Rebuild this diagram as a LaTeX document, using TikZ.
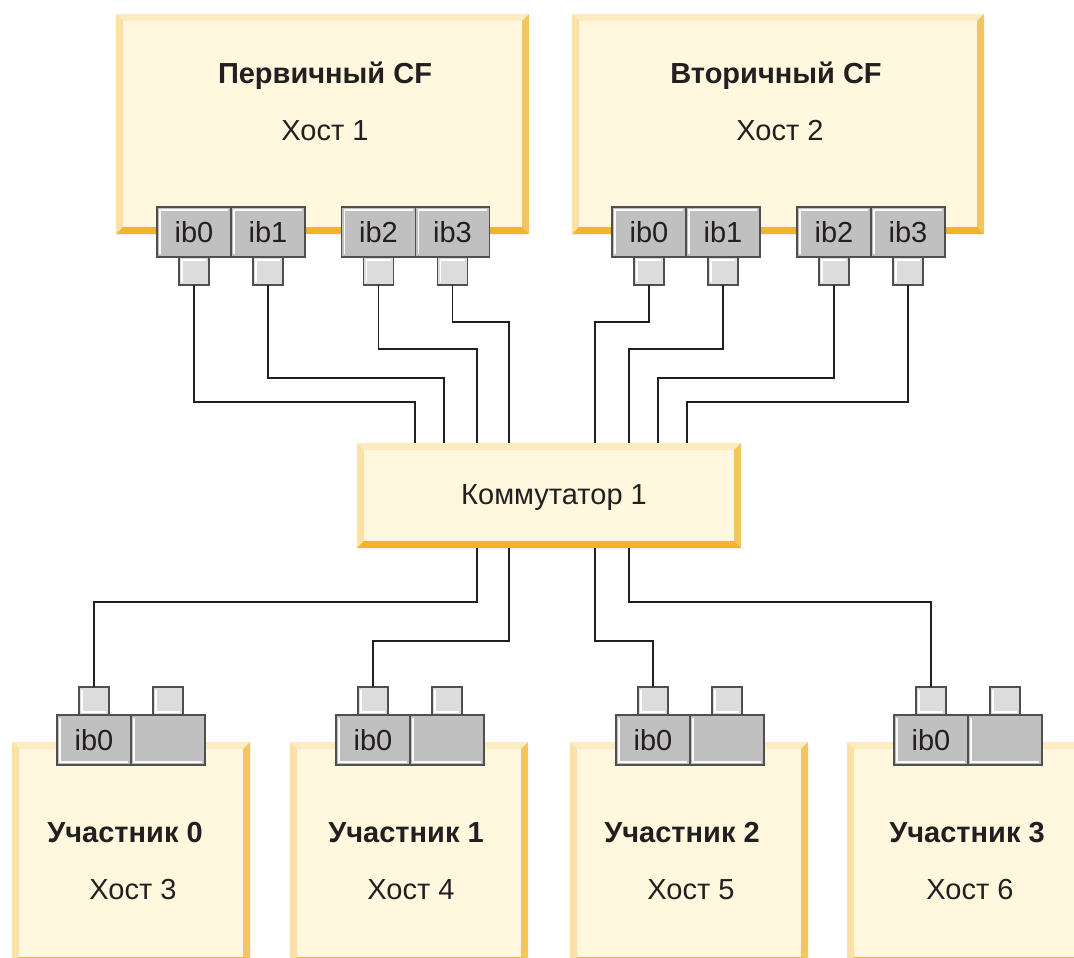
\documentclass[tikz,border=0pt]{standalone}
\usepackage{fontspec}
\setmainfont{Liberation Sans}
\usetikzlibrary{positioning}
\definecolor{boxfill}{HTML}{FFF8DF}
\definecolor{beveltop}{HTML}{FDEBC2}
\definecolor{bevelleft}{HTML}{FCE1A6}
\definecolor{bevelright}{HTML}{F3C55F}
\definecolor{bevelbottom}{HTML}{F0B52B}
\definecolor{portgray}{HTML}{C0C0C0}
\definecolor{pluggray}{HTML}{DCDCDC}
\definecolor{edgegray}{HTML}{4F4F4F}
\definecolor{textdark}{HTML}{231F20}

\tikzset{
  bevelbox/.style={rectangle, fill=boxfill, inner sep=0pt, outer sep=0pt,
    path picture={
      \path (path picture bounding box.north west) coordinate (bnw)
            (path picture bounding box.north east) coordinate (bne)
            (path picture bounding box.south west) coordinate (bsw)
            (path picture bounding box.south east) coordinate (bse);
      \fill[beveltop] (bnw) -- (bne) -- ([shift={(-7pt,-7pt)}]bne) -- ([shift={(7pt,-7pt)}]bnw) -- cycle;
      \fill[bevelleft] (bnw) -- ([shift={(7pt,-7pt)}]bnw) -- ([shift={(7pt,7pt)}]bsw) -- (bsw) -- cycle;
      \fill[bevelright] (bne) -- (bse) -- ([shift={(-7pt,7pt)}]bse) -- ([shift={(-7pt,-7pt)}]bne) -- cycle;
      \fill[bevelbottom] (bsw) -- ([shift={(7pt,7pt)}]bsw) -- ([shift={(-7pt,7pt)}]bse) -- (bse) -- cycle;
    }},
  % Gamma-shaped highlight for top ports, L-shaped for member ports
  gammalight/.style={path picture={
      \draw[#1, line width=1.2pt]
        ([shift={(3pt,3pt)}]path picture bounding box.south west) --
        ([shift={(3pt,-3pt)}]path picture bounding box.north west) --
        ([shift={(-3pt,-3pt)}]path picture bounding box.north east);
    }},
  elllight/.style={path picture={
      \draw[#1, line width=1.2pt]
        ([shift={(3pt,-3pt)}]path picture bounding box.north west) --
        ([shift={(3pt,3pt)}]path picture bounding box.south west) --
        ([shift={(-3pt,3pt)}]path picture bounding box.south east);
    }},
  portbox/.style={rectangle, draw=edgegray, line width=1.6pt, fill=portgray,
    minimum width=74pt, minimum height=50pt, inner sep=0pt, outer sep=0pt,
    font=\fontsize{29}{34}\selectfont, text=textdark},
  plugbox/.style={rectangle, draw=edgegray, line width=1.6pt, fill=pluggray,
    minimum width=30pt, minimum height=28pt, inner sep=0pt, outer sep=0pt},
  titletext/.style={font=\fontsize{29}{34}\selectfont\bfseries, text=textdark},
  hosttext/.style={font=\fontsize{29}{34}\selectfont, text=textdark},
  wire/.style={draw=textdark, line width=1.4pt}
}

\begin{document}
\begin{tikzpicture}[x=1pt, y=-1pt]
  \useasboundingbox (0,0) rectangle (1074,958);
  \clip (0,0) rectangle (1074,958);

  % CF hosts
  \node[bevelbox, minimum width=413pt, minimum height=220pt] (h1) at (322.5,124) {};
  \node[bevelbox, minimum width=412pt, minimum height=220pt] (h2) at (778,124) {};
  \node[titletext] (h1t) at (325,76) {Первичный CF};
  \node[hosttext] (h1h) at (325,131) {Хост 1};
  \node[titletext] (h2t) at (776,76) {Вторичный CF};
  \node[hosttext] (h2h) at (780,131) {Хост 2};

  \node[portbox, gammalight=white!90!portgray] (h1p0) at (194,232) {ib0};
  \node[portbox, gammalight=white!90!portgray, right=0pt of h1p0] (h1p1) {ib1};
  \node[portbox, gammalight=white!90!portgray] (h1p2) at (378.5,232) {ib2};
  \node[portbox, gammalight=white!90!portgray, right=0pt of h1p2] (h1p3) {ib3};
  \node[portbox, gammalight=white!90!portgray] (h2p0) at (649,232) {ib0};
  \node[portbox, gammalight=white!90!portgray, right=0pt of h2p0] (h2p1) {ib1};
  \node[portbox, gammalight=white!90!portgray] (h2p2) at (834,232) {ib2};
  \node[portbox, gammalight=white!90!portgray, right=0pt of h2p2] (h2p3) {ib3};

  \node[plugbox, gammalight=white, below=0pt of h1p0] (h1c0) {};
  \node[plugbox, gammalight=white, below=0pt of h1p1] (h1c1) {};
  \node[plugbox, gammalight=white, below=0pt of h1p2] (h1c2) {};
  \node[plugbox, gammalight=white, below=0pt of h1p3] (h1c3) {};
  \node[plugbox, gammalight=white, below=0pt of h2p0] (h2c0) {};
  \node[plugbox, gammalight=white, below=0pt of h2p1] (h2c1) {};
  \node[plugbox, gammalight=white, below=0pt of h2p2] (h2c2) {};
  \node[plugbox, gammalight=white, below=0pt of h2p3] (h2c3) {};

  % switch
  \node[bevelbox, minimum width=384pt, minimum height=105pt] (sw) at (549,495.5) {};
  \node[hosttext] (swt) at (554,498) {Коммутатор 1};

  % members
  \node[bevelbox, minimum width=238pt, minimum height=222pt] (m0) at (131,853) {};
  \node[bevelbox, minimum width=238pt, minimum height=222pt] (m1) at (409,853) {};
  \node[bevelbox, minimum width=238pt, minimum height=222pt] (m2) at (689,853) {};
  \node[bevelbox, minimum width=238pt, minimum height=222pt] (m3) at (966,853) {};
  \node[titletext] (m0t) at (125,833) {Участник 0};
  \node[hosttext] (m0h) at (133,890) {Хост 3};
  \node[titletext] (m1t) at (406,833) {Участник 1};
  \node[hosttext] (m1h) at (411,890) {Хост 4};
  \node[titletext] (m2t) at (682,833) {Участник 2};
  \node[hosttext] (m2h) at (691,890) {Хост 5};
  \node[titletext] (m3t) at (967,833) {Участник 3};
  \node[hosttext] (m3h) at (970,890) {Хост 6};

  \node[portbox, elllight=white!90!portgray] (m0p0) at (94,740) {ib0};
  \node[portbox, elllight=white!90!portgray, right=0pt of m0p0] (m0p1) {};
  \node[portbox, elllight=white!90!portgray] (m1p0) at (373,740) {ib0};
  \node[portbox, elllight=white!90!portgray, right=0pt of m1p0] (m1p1) {};
  \node[portbox, elllight=white!90!portgray] (m2p0) at (653,740) {ib0};
  \node[portbox, elllight=white!90!portgray, right=0pt of m2p0] (m2p1) {};
  \node[portbox, elllight=white!90!portgray] (m3p0) at (931,740) {ib0};
  \node[portbox, elllight=white!90!portgray, right=0pt of m3p0] (m3p1) {};

  \node[plugbox, elllight=white, above=0pt of m0p0] (m0c0) {};
  \node[plugbox, elllight=white, above=0pt of m0p1] (m0c1) {};
  \node[plugbox, elllight=white, above=0pt of m1p0] (m1c0) {};
  \node[plugbox, elllight=white, above=0pt of m1p1] (m1c1) {};
  \node[plugbox, elllight=white, above=0pt of m2p0] (m2c0) {};
  \node[plugbox, elllight=white, above=0pt of m2p1] (m2c1) {};
  \node[plugbox, elllight=white, above=0pt of m3p0] (m3c0) {};
  \node[plugbox, elllight=white, above=0pt of m3p1] (m3c1) {};

  % cables: CF ports -> switch
  \draw[wire] (h1c0.south) -- ++(0,117) -| ([xshift=-134pt]sw.north);
  \draw[wire] (h1c1.south) -- ++(0,93) -| ([xshift=-105pt]sw.north);
  \draw[wire] (h1c2.south) -- ++(0,64) -| ([xshift=-72pt]sw.north);
  \draw[wire] (h1c3.south) -- ++(0,37) -| ([xshift=-40pt]sw.north);
  \draw[wire] (h2c0.south) -- ++(0,37) -| ([xshift=46pt]sw.north);
  \draw[wire] (h2c1.south) -- ++(0,64) -| ([xshift=80pt]sw.north);
  \draw[wire] (h2c2.south) -- ++(0,93) -| ([xshift=109pt]sw.north);
  \draw[wire] (h2c3.south) -- ++(0,117) -| ([xshift=138pt]sw.north);

  % cables: switch -> members
  \draw[wire] ([xshift=-72pt]sw.south) -- ++(0,54) -| (m0c0.north);
  \draw[wire] ([xshift=-40pt]sw.south) -- ++(0,93) -| (m1c0.north);
  \draw[wire] ([xshift=46pt]sw.south) -- ++(0,93) -| (m2c0.north);
  \draw[wire] ([xshift=80pt]sw.south) -- ++(0,54) -| (m3c0.north);
\end{tikzpicture}
\end{document}
